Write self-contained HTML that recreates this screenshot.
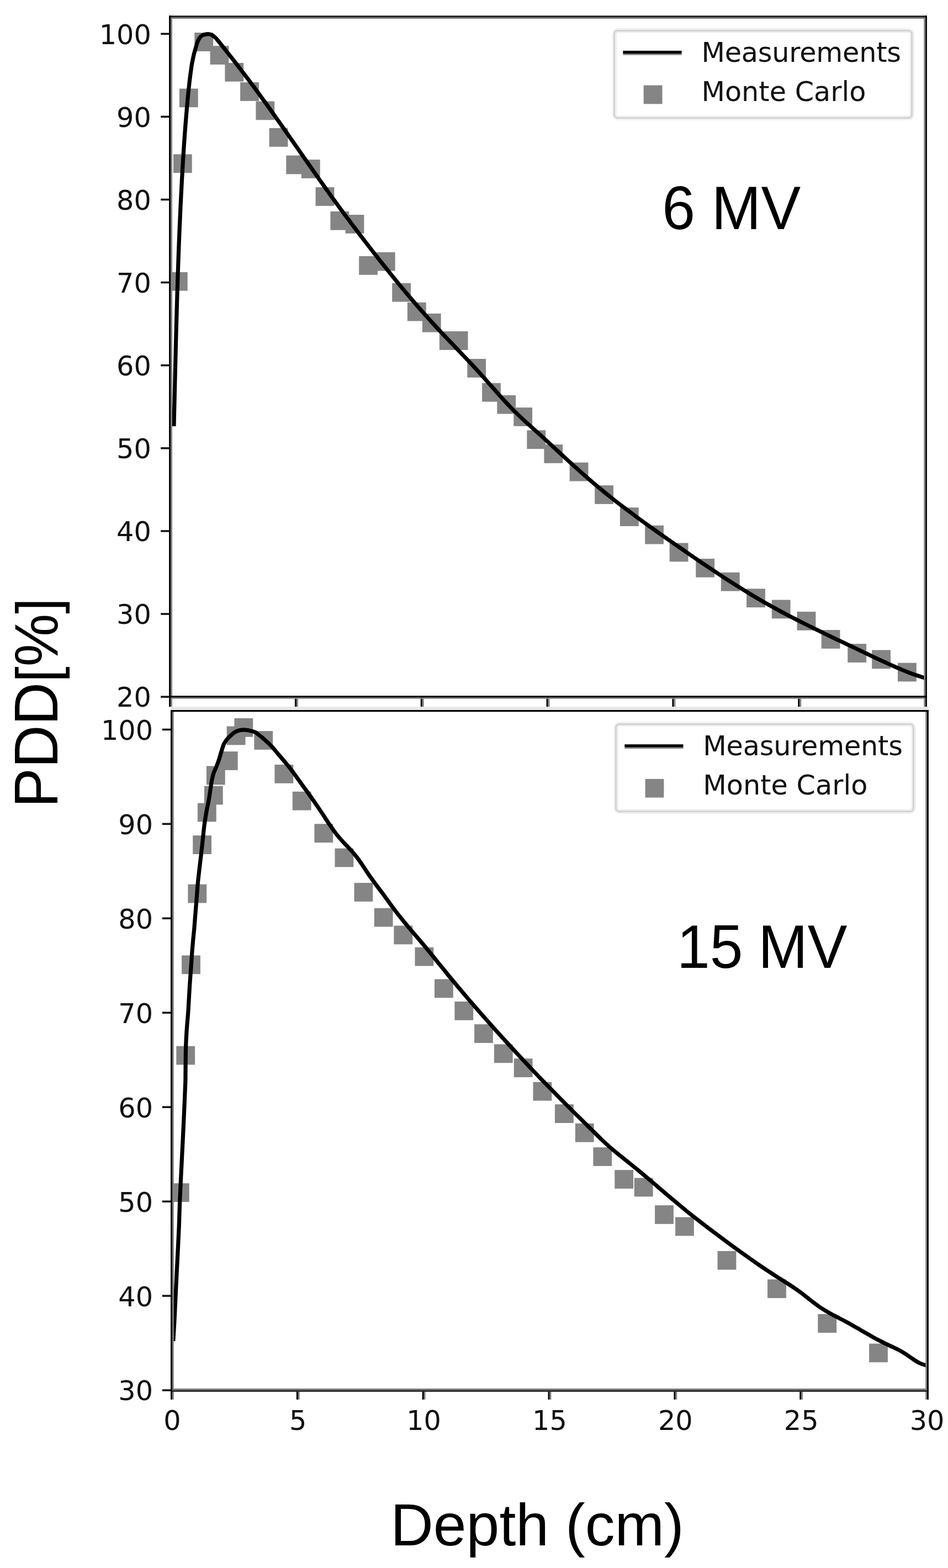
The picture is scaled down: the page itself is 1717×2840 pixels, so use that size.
<!DOCTYPE html>
<html lang="en">
<head>
<meta charset="utf-8">
<title>PDD curves - 6 MV and 15 MV</title>
<style>
html,body{margin:0;padding:0;background:#fff;}
body{width:1717px;height:2840px;overflow:hidden;}
svg{display:block;filter:blur(0.7px);}
text{white-space:pre;}
</style>
</head>
<body>
<svg width="1717" height="2840" viewBox="0 0 1717 2840">
<rect x="0" y="0" width="1717" height="2840" fill="#fff"/>
<!-- top axes: 6 MV -->
<clipPath id="ct"><rect x="306.1" y="28.3" width="1372.8" height="1237.5"/></clipPath>
<g clip-path="url(#ct)">
<g fill="#858585">
<rect x="305.9" y="492.9" width="33.8" height="33.8"/>
<rect x="313.9" y="279.4" width="33.8" height="33.8"/>
<rect x="324.9" y="160.5" width="33.8" height="33.8"/>
<rect x="352.3" y="59.1" width="33.8" height="33.8"/>
<rect x="380.6" y="83.1" width="33.8" height="33.8"/>
<rect x="407.4" y="113.9" width="33.8" height="33.8"/>
<rect x="435.1" y="149.1" width="33.8" height="33.8"/>
<rect x="463.4" y="183.5" width="33.8" height="33.8"/>
<rect x="487.6" y="232" width="33.8" height="33.8"/>
<rect x="518.3" y="281.6" width="33.8" height="33.8"/>
<rect x="545.9" y="289.1" width="33.8" height="33.8"/>
<rect x="571.6" y="339.1" width="33.8" height="33.8"/>
<rect x="598.4" y="382.9" width="33.8" height="33.8"/>
<rect x="625.6" y="389" width="33.8" height="33.8"/>
<rect x="650.2" y="464" width="33.8" height="33.8"/>
<rect x="681.9" y="456.8" width="33.8" height="33.8"/>
<rect x="710.2" y="512.8" width="33.8" height="33.8"/>
<rect x="737.9" y="547.7" width="33.8" height="33.8"/>
<rect x="764.9" y="567.9" width="33.8" height="33.8"/>
<rect x="795.9" y="600.1" width="33.8" height="33.8"/>
<rect x="813.7" y="600.1" width="33.8" height="33.8"/>
<rect x="846.3" y="650" width="33.8" height="33.8"/>
<rect x="873.1" y="693.8" width="33.8" height="33.8"/>
<rect x="900.3" y="715.8" width="33.8" height="33.8"/>
<rect x="930.3" y="738.1" width="33.8" height="33.8"/>
<rect x="954.4" y="779.3" width="33.8" height="33.8"/>
<rect x="985.4" y="805.1" width="33.8" height="33.8"/>
<rect x="1031.7" y="837.7" width="33.8" height="33.8"/>
<rect x="1077.2" y="879.1" width="33.8" height="33.8"/>
<rect x="1122.9" y="919.2" width="33.8" height="33.8"/>
<rect x="1168.2" y="951.7" width="33.8" height="33.8"/>
<rect x="1212.7" y="983.5" width="33.8" height="33.8"/>
<rect x="1260.3" y="1011.9" width="33.8" height="33.8"/>
<rect x="1305.9" y="1036.8" width="33.8" height="33.8"/>
<rect x="1352.1" y="1066.3" width="33.8" height="33.8"/>
<rect x="1397.8" y="1086.5" width="33.8" height="33.8"/>
<rect x="1443.6" y="1107.9" width="33.8" height="33.8"/>
<rect x="1487.7" y="1141" width="33.8" height="33.8"/>
<rect x="1535.3" y="1166.1" width="33.8" height="33.8"/>
<rect x="1579.2" y="1177.4" width="33.8" height="33.8"/>
<rect x="1626" y="1200.6" width="33.8" height="33.8"/>
</g>
<path d="M314.95 772 C315.07 767 315.43 752 315.67 742 C315.91 732 316.15 722 316.38 712 C316.62 702 316.86 692 317.09 682 C317.33 672 317.57 662 317.81 652 C318.06 642 318.3 632 318.55 622 C318.81 612 319.06 602 319.33 592 C319.59 582 319.86 572 320.15 562 C320.43 552 320.72 542 321.02 532 C321.32 522 321.64 512 321.96 502 C322.29 492 322.63 482 322.98 472 C323.34 462 323.71 452 324.1 442 C324.48 432 324.89 422 325.31 412 C325.73 402 326.17 392 326.64 382 C327.1 372 327.58 362 328.09 352 C328.59 342 329.12 332 329.68 322 C330.23 312 330.8 302 331.41 292 C332.02 282 332.65 272 333.33 262 C334.01 252 334.72 242 335.48 232 C336.25 222 337.41 208.17 337.92 202 C338.42 195.83 338.28 197.83 338.53 195 C338.78 192.17 339.13 188.33 339.44 185 C339.75 181.67 340.06 178.33 340.39 175 C340.71 171.67 341.04 168.33 341.38 165 C341.72 161.67 342.07 158.33 342.44 155 C342.81 151.67 343.19 148.33 343.59 145 C343.99 141.67 344.4 138.33 344.84 135 C345.29 131.67 345.77 128.3 346.25 125 C346.72 121.7 346.89 119.57 347.7 115.2 C348.51 110.83 350.03 103.33 351.1 98.8 C352.17 94.27 353.07 91.58 354.1 88 C355.13 84.42 356.13 80.43 357.3 77.3 C358.47 74.17 359.65 71.37 361.1 69.2 C362.55 67.03 364.08 65.47 366 64.3 C367.92 63.13 370.5 62.58 372.6 62.15 C374.7 61.73 376.6 61.49 378.6 61.77 C380.6 62.04 382.6 62.63 384.6 63.8 C386.6 64.96 388.6 66.76 390.6 68.75 C392.6 70.73 394.6 73.31 396.6 75.72 C398.6 78.13 400.6 80.72 402.6 83.22 C404.6 85.73 406.6 88.25 408.6 90.78 C410.6 93.3 412.6 95.84 414.6 98.38 C416.6 100.92 418.6 103.47 420.6 106.03 C422.6 108.59 424.6 111.16 426.6 113.74 C428.6 116.32 430.6 118.9 432.6 121.5 C434.6 124.1 436.6 126.7 438.6 129.32 C440.6 131.94 442.6 134.57 444.6 137.2 C446.6 139.84 448.6 142.49 450.6 145.15 C452.6 147.81 454.6 150.48 456.6 153.16 C458.6 155.84 460.6 158.54 462.6 161.24 C464.6 163.95 467.37 167.72 468.6 169.39 C469.83 171.07 467.77 168.23 470 171.31 C472.23 174.38 478 182.29 482 187.84 C486 193.4 490 198.99 494 204.61 C498 210.23 502 215.89 506 221.57 C510 227.24 514 232.94 518 238.65 C522 244.36 526 250.1 530 255.83 C534 261.56 538 267.31 542 273.05 C546 278.79 550 284.53 554 290.26 C558 295.99 562 301.72 566 307.42 C570 313.13 574 318.82 578 324.48 C582 330.15 586 335.79 590 341.4 C594 347 598 352.58 602 358.11 C606 363.65 610 369.14 614 374.6 C618 380.06 622 385.48 626 390.86 C630 396.25 634 401.6 638 406.91 C642 412.23 646 417.51 650 422.76 C654 428.01 658 433.22 662 438.41 C666 443.6 670 448.76 674 453.89 C678 459.02 682 464.12 686 469.19 C690 474.27 694 479.31 698 484.32 C702 489.34 706 494.32 710 499.26 C714 504.2 718 509.11 722 513.98 C726 518.85 730 523.68 734 528.46 C738 533.24 742 537.98 746 542.67 C750 547.37 754 552.01 758 556.6 C762 561.19 766 565.74 770 570.22 C774 574.71 778 579.13 782 583.51 C786 587.88 790 592.19 794 596.47 C798 600.75 802 604.98 806 609.19 C810 613.41 814 617.59 818 621.77 C822 625.96 826 630.12 830 634.3 C834 638.48 838 642.66 842 646.87 C846 651.09 850 655.31 854 659.58 C858 663.86 862 668.16 866 672.53 C870 676.9 874 681.33 878 685.81 C882 690.28 886 694.86 890 699.4 C894 703.93 898 708.52 902 713 C906 717.48 910 721.97 914 726.28 C918 730.6 922 734.83 926 738.91 C930 742.99 934 746.9 938 750.76 C942 754.61 946 758.33 950 762.03 C954 765.74 958 769.34 962 772.97 C966 776.59 970 780.16 974 783.78 C978 787.4 982 791.03 986 794.68 C990 798.33 994 802.01 998 805.69 C1002 809.36 1006 813.06 1010 816.74 C1014 820.43 1018 824.12 1022 827.79 C1026 831.46 1030 835.13 1034 838.78 C1038 842.42 1042 846.05 1046 849.64 C1050 853.24 1054 856.81 1058 860.33 C1062 863.86 1066 867.35 1070 870.79 C1074 874.23 1078 877.62 1082 880.97 C1086 884.32 1090 887.62 1094 890.88 C1098 894.14 1102 897.35 1106 900.54 C1110 903.72 1114 906.86 1118 909.97 C1122 913.08 1126 916.15 1130 919.19 C1134 922.24 1138 925.25 1142 928.24 C1146 931.22 1150 934.18 1154 937.12 C1158 940.05 1162 942.96 1166 945.86 C1170 948.75 1174 951.62 1178 954.48 C1182 957.34 1186 960.18 1190 963.01 C1194 965.84 1198 968.66 1202 971.46 C1206 974.27 1210 977.07 1214 979.87 C1218 982.66 1222 985.46 1226 988.24 C1230 991.03 1234 993.81 1238 996.58 C1242 999.35 1246 1002.11 1250 1004.87 C1254 1007.62 1258 1010.36 1262 1013.1 C1266 1015.83 1270 1018.55 1274 1021.26 C1278 1023.96 1282 1026.66 1286 1029.33 C1290 1032.01 1294 1034.67 1298 1037.32 C1302 1039.96 1306 1042.59 1310 1045.19 C1314 1047.8 1318 1050.39 1322 1052.95 C1326 1055.52 1330 1058.06 1334 1060.58 C1338 1063.1 1342 1065.6 1346 1068.07 C1350 1070.54 1354 1072.98 1358 1075.4 C1362 1077.82 1366 1080.21 1370 1082.57 C1374 1084.93 1378 1087.26 1382 1089.56 C1386 1091.86 1390 1094.12 1394 1096.36 C1398 1098.61 1402 1100.82 1406 1103 C1410 1105.19 1414 1107.35 1418 1109.48 C1422 1111.62 1426 1113.73 1430 1115.82 C1434 1117.91 1438 1119.98 1442 1122.03 C1446 1124.08 1450 1126.11 1454 1128.13 C1458 1130.15 1462 1132.14 1466 1134.13 C1470 1136.11 1474 1138.08 1478 1140.04 C1482 1142 1486 1143.94 1490 1145.88 C1494 1147.82 1498 1149.74 1502 1151.66 C1506 1153.58 1510 1155.49 1514 1157.4 C1518 1159.31 1522 1161.21 1526 1163.11 C1530 1165.02 1534 1166.91 1538 1168.81 C1542 1170.71 1546 1172.61 1550 1174.51 C1554 1176.41 1558 1178.31 1562 1180.22 C1566 1182.13 1570 1184.04 1574 1185.95 C1578 1187.86 1582 1189.78 1586 1191.67 C1590 1193.57 1594 1195.46 1598 1197.32 C1602 1199.18 1606 1201.03 1610 1202.83 C1614 1204.64 1618 1206.43 1622 1208.16 C1626 1209.9 1630 1211.6 1634 1213.24 C1638 1214.89 1642 1216.49 1646 1218.02 C1650 1219.55 1654 1221.04 1658 1222.44 C1662 1223.84 1666.67 1225.37 1670 1226.44 C1673.33 1227.5 1676.67 1228.44 1678 1228.84" fill="none" stroke="#000" stroke-width="7.2" stroke-linejoin="round" stroke-linecap="butt"/>
</g>
<g stroke="#111" stroke-width="3.5">
<line x1="291.2" y1="61.3" x2="306.6" y2="61.3"/>
<line x1="291.2" y1="211.4" x2="306.6" y2="211.4"/>
<line x1="291.2" y1="361.5" x2="306.6" y2="361.5"/>
<line x1="291.2" y1="511.6" x2="306.6" y2="511.6"/>
<line x1="291.2" y1="661.7" x2="306.6" y2="661.7"/>
<line x1="291.2" y1="811.8" x2="306.6" y2="811.8"/>
<line x1="291.2" y1="961.9" x2="306.6" y2="961.9"/>
<line x1="291.2" y1="1112" x2="306.6" y2="1112"/>
<line x1="291.2" y1="1262.1" x2="306.6" y2="1262.1"/>
</g>
<rect x="306.1" y="1263.4" width="3" height="16.7" fill="#000"/>
<rect x="309.1" y="1263.4" width="2.9" height="16.7" fill="#808080"/>
<rect x="533.94" y="1263.4" width="3" height="16.7" fill="#000"/>
<rect x="536.94" y="1263.4" width="2.9" height="16.7" fill="#808080"/>
<rect x="761.78" y="1263.4" width="3" height="16.7" fill="#000"/>
<rect x="764.78" y="1263.4" width="2.9" height="16.7" fill="#808080"/>
<rect x="989.62" y="1263.4" width="3" height="16.7" fill="#000"/>
<rect x="992.62" y="1263.4" width="2.9" height="16.7" fill="#808080"/>
<rect x="1217.47" y="1263.4" width="3" height="16.7" fill="#000"/>
<rect x="1220.47" y="1263.4" width="2.9" height="16.7" fill="#808080"/>
<rect x="1445.31" y="1263.4" width="3" height="16.7" fill="#000"/>
<rect x="1448.31" y="1263.4" width="2.9" height="16.7" fill="#808080"/>
<rect x="1673.3" y="1263.4" width="2.9" height="16.7" fill="#808080"/>
<rect x="1676.2" y="1263.4" width="2.7" height="16.7" fill="#000"/>
<rect x="306.1" y="31.5" width="1372.8" height="2.4" fill="#777"/>
<rect x="306.1" y="1263.4" width="1372.8" height="2.4" fill="#8a8a8a"/>
<rect x="309.1" y="28.3" width="2.9" height="1237.5" fill="#808080"/>
<rect x="1673.3" y="28.3" width="2.9" height="1237.5" fill="#808080"/>
<rect x="306.1" y="28.3" width="1372.8" height="3.2" fill="#1c1c1c"/>
<rect x="306.1" y="1260.2" width="1372.8" height="3.2" fill="#000"/>
<rect x="306.1" y="28.3" width="3" height="1237.5" fill="#000"/>
<rect x="1676.2" y="28.3" width="2.7" height="1237.5" fill="#000"/>
<g font-family="'DejaVu Sans', sans-serif" font-size="49.3" fill="#111" text-anchor="end">
<text x="273.8" y="79.6">100</text>
<text x="273.8" y="229.7">90</text>
<text x="273.8" y="379.8">80</text>
<text x="273.8" y="529.9">70</text>
<text x="273.8" y="680">60</text>
<text x="273.8" y="830.1">50</text>
<text x="273.8" y="980.2">40</text>
<text x="273.8" y="1130.3">30</text>
<text x="273.8" y="1280.4">20</text>
</g>
<rect x="1113.1" y="55.5" width="538.6" height="158" rx="6" ry="6" fill="#fff" stroke="#f0f0f0" stroke-width="8.6"/>
<rect x="1112.5" y="55.5" width="539" height="158" rx="6" ry="6" fill="none" stroke="#d3d3d3" stroke-width="3"/>
<rect x="1128.4" y="97" width="106.2" height="2.7" fill="#808080"/>
<rect x="1128.4" y="91.9" width="106.2" height="5.2" fill="#000"/>
<rect x="1165.7" y="154.5" width="33.8" height="33.8" fill="#858585"/>
<g font-family="'DejaVu Sans', sans-serif" font-size="49.3" fill="#111">
<text x="1270.4" y="111.8" textLength="361.6" lengthAdjust="spacing">Measurements</text>
<text x="1270.4" y="183.1">Monte Carlo</text>
</g>
<text transform="translate(1199.2 415.4) scale(1 1.032)" font-family="'Liberation Sans', sans-serif" font-size="107.5" fill="#000">6 MV</text>
<!-- bottom axes: 15 MV -->
<rect x="309" y="1280.3" width="1372.9" height="5.3" fill="#e6e6e6"/>
<clipPath id="cb"><rect x="309" y="1286" width="1372.9" height="1234.9"/></clipPath>
<g clip-path="url(#cb)">
<g fill="#858585">
<rect x="308.9" y="2143.2" width="33.8" height="33.8"/>
<rect x="319.3" y="1894.7" width="33.8" height="33.8"/>
<rect x="329.1" y="1730.5" width="33.8" height="33.8"/>
<rect x="340.4" y="1601.7" width="33.8" height="33.8"/>
<rect x="349.2" y="1513.2" width="33.8" height="33.8"/>
<rect x="357.9" y="1454.6" width="33.8" height="33.8"/>
<rect x="369.9" y="1423.6" width="33.8" height="33.8"/>
<rect x="373.9" y="1387.5" width="33.8" height="33.8"/>
<rect x="396.8" y="1361.1" width="33.8" height="33.8"/>
<rect x="410.7" y="1315.5" width="33.8" height="33.8"/>
<rect x="424.4" y="1300.9" width="33.8" height="33.8"/>
<rect x="460.4" y="1324" width="33.8" height="33.8"/>
<rect x="497.4" y="1384.9" width="33.8" height="33.8"/>
<rect x="529.8" y="1433.8" width="33.8" height="33.8"/>
<rect x="569.4" y="1492.3" width="33.8" height="33.8"/>
<rect x="606.5" y="1536.6" width="33.8" height="33.8"/>
<rect x="641.5" y="1599.1" width="33.8" height="33.8"/>
<rect x="677.8" y="1644.8" width="33.8" height="33.8"/>
<rect x="713.4" y="1676.6" width="33.8" height="33.8"/>
<rect x="751.5" y="1715.8" width="33.8" height="33.8"/>
<rect x="787" y="1773.5" width="33.8" height="33.8"/>
<rect x="823.4" y="1814" width="33.8" height="33.8"/>
<rect x="859.1" y="1855.2" width="33.8" height="33.8"/>
<rect x="894.9" y="1891.4" width="33.8" height="33.8"/>
<rect x="930.8" y="1917.3" width="33.8" height="33.8"/>
<rect x="965.5" y="1959.8" width="33.8" height="33.8"/>
<rect x="1005" y="2000.2" width="33.8" height="33.8"/>
<rect x="1041.9" y="2034.8" width="33.8" height="33.8"/>
<rect x="1074.4" y="2078.1" width="33.8" height="33.8"/>
<rect x="1113.3" y="2119.1" width="33.8" height="33.8"/>
<rect x="1148.8" y="2133.5" width="33.8" height="33.8"/>
<rect x="1186.1" y="2183.1" width="33.8" height="33.8"/>
<rect x="1223.1" y="2204.6" width="33.8" height="33.8"/>
<rect x="1299.6" y="2265.9" width="33.8" height="33.8"/>
<rect x="1390.1" y="2317.3" width="33.8" height="33.8"/>
<rect x="1481.3" y="2380.1" width="33.8" height="33.8"/>
<rect x="1574.1" y="2433.6" width="33.8" height="33.8"/>
</g>
<path d="M313.8 2429 C314.25 2421.02 315.63 2398.03 316.5 2381.1 C317.37 2364.17 318.13 2345.3 319 2327.4 C319.87 2309.5 320.83 2291.27 321.7 2273.7 C322.57 2256.13 323.53 2238.48 324.2 2222 C324.87 2205.52 325.02 2191.62 325.7 2174.8 C326.38 2157.98 327.42 2139 328.3 2121.1 C329.18 2103.2 330.13 2085.3 331 2067.4 C331.87 2049.5 332.72 2031.27 333.5 2013.7 C334.28 1996.13 335.28 1974 335.7 1962 C336.12 1950 335.9 1949.57 336 1941.7 C336.1 1933.83 336.15 1923.75 336.3 1914.8 C336.45 1905.85 336.53 1896.95 336.9 1888 C337.27 1879.05 337.87 1870.05 338.5 1861.1 C339.13 1852.15 340.07 1843.25 340.7 1834.3 C341.33 1825.35 341.77 1816.35 342.3 1807.4 C342.83 1798.45 343.3 1789.55 343.9 1780.6 C344.5 1771.65 345.27 1762.65 345.9 1753.7 C346.53 1744.75 347.05 1735.52 347.7 1726.9 C348.35 1718.28 349.12 1709.53 349.8 1702 C350.48 1694.47 351.12 1689.57 351.8 1681.7 C352.48 1673.83 353.18 1663.75 353.9 1654.8 C354.62 1645.85 355.38 1636.95 356.1 1628 C356.82 1619.05 357.37 1610.05 358.2 1601.1 C359.03 1592.15 360.08 1583.25 361.1 1574.3 C362.12 1565.35 363.27 1556.35 364.3 1547.4 C365.33 1538.45 366.32 1529.55 367.3 1520.6 C368.28 1511.65 369 1502.65 370.2 1493.7 C371.4 1484.75 373.33 1473.5 374.5 1466.9 C375.67 1460.3 376.37 1458.47 377.2 1454.1 C378.03 1449.73 378.78 1445.18 379.5 1440.7 C380.22 1436.22 380.82 1431.68 381.5 1427.2 C382.18 1422.72 382.7 1418.27 383.6 1413.8 C384.5 1409.33 385.4 1404.87 386.9 1400.4 C388.4 1395.93 390.87 1391.47 392.6 1387 C394.33 1382.53 395.85 1378.08 397.3 1373.6 C398.75 1369.12 399.85 1364.58 401.3 1360.1 C402.75 1355.62 403.98 1350.62 406 1346.7 C408.02 1342.78 409.93 1340.18 413.4 1336.6 C416.87 1333.02 422.1 1327.67 426.8 1325.2 C431.5 1322.73 436 1321.75 441.6 1321.8 C447.2 1321.85 456.15 1324.15 460.4 1325.5 C464.65 1326.85 464.87 1328.33 467.1 1329.9 C469.33 1331.47 471.57 1333.07 473.8 1334.9 C476.03 1336.73 478.27 1338.88 480.5 1340.9 C482.73 1342.92 484.95 1344.82 487.2 1347 C489.45 1349.18 492.08 1351.88 494 1354 C495.92 1356.12 495.52 1355.92 498.7 1359.7 C501.88 1363.48 508.7 1371.46 513.1 1376.69 C517.5 1381.92 521.1 1385.96 525.1 1391.08 C529.1 1396.2 533.1 1401.9 537.1 1407.41 C541.1 1412.92 545.1 1418.58 549.1 1424.12 C553.1 1429.66 557.1 1435.05 561.1 1440.65 C565.1 1446.25 569.1 1451.87 573.1 1457.7 C577.1 1463.53 581.1 1469.61 585.1 1475.63 C589.1 1481.65 593.1 1487.99 597.1 1493.82 C601.1 1499.65 605.1 1505.49 609.1 1510.61 C613.1 1515.73 617.1 1520.11 621.1 1524.54 C625.1 1528.98 629.1 1532.81 633.1 1537.22 C637.1 1541.64 641.1 1545.92 645.1 1551.04 C649.1 1556.16 653.1 1562.12 657.1 1567.93 C661.1 1573.75 665.1 1580.16 669.1 1585.92 C673.1 1591.68 677.1 1597.06 681.1 1602.49 C685.1 1607.91 689.1 1613.06 693.1 1618.46 C697.1 1623.86 701.1 1629.44 705.1 1634.88 C709.1 1640.32 713.1 1645.86 717.1 1651.09 C721.1 1656.32 725.1 1661.34 729.1 1666.27 C733.1 1671.21 737.1 1675.95 741.1 1680.7 C745.1 1685.45 749.1 1690.07 753.1 1694.76 C757.1 1699.45 761.1 1704.09 765.1 1708.84 C769.1 1713.59 773.1 1718.41 777.1 1723.27 C781.1 1728.13 785.1 1733.07 789.1 1738 C793.1 1742.93 797.1 1747.92 801.1 1752.85 C805.1 1757.79 809.1 1762.73 813.1 1767.62 C817.1 1772.5 821.1 1777.34 825.1 1782.15 C829.1 1786.95 833.1 1791.71 837.1 1796.44 C841.1 1801.16 845.1 1805.85 849.1 1810.51 C853.1 1815.17 857.1 1819.79 861.1 1824.38 C865.1 1828.98 869.1 1833.54 873.1 1838.09 C877.1 1842.63 881.1 1847.14 885.1 1851.63 C889.1 1856.13 893.1 1860.6 897.1 1865.05 C901.1 1869.5 905.1 1873.92 909.1 1878.33 C913.1 1882.74 917.1 1887.12 921.1 1891.49 C925.1 1895.85 929.1 1900.2 933.1 1904.52 C937.1 1908.84 941.1 1913.14 945.1 1917.42 C949.1 1921.7 953.1 1925.96 957.1 1930.2 C961.1 1934.44 965.1 1938.66 969.1 1942.86 C973.1 1947.05 977.1 1951.23 981.1 1955.39 C985.1 1959.54 989.1 1963.68 993.1 1967.8 C997.1 1971.91 1001.1 1976.01 1005.1 1980.09 C1009.1 1984.16 1013.1 1988.22 1017.1 1992.26 C1021.1 1996.29 1025.1 2000.31 1029.1 2004.31 C1033.1 2008.31 1037.1 2012.28 1041.1 2016.24 C1045.1 2020.2 1049.1 2024.13 1053.1 2028.06 C1057.1 2031.99 1061.1 2035.9 1065.1 2039.84 C1069.1 2043.77 1073.1 2047.72 1077.1 2051.66 C1081.1 2055.61 1085.1 2059.68 1089.1 2063.51 C1093.1 2067.34 1097.1 2071.08 1101.1 2074.65 C1105.1 2078.23 1109.1 2081.63 1113.1 2084.99 C1117.1 2088.34 1121.1 2091.56 1125.1 2094.79 C1129.1 2098.02 1133.1 2101.17 1137.1 2104.36 C1141.1 2107.56 1145.1 2110.74 1149.1 2113.99 C1153.1 2117.24 1157.1 2120.53 1161.1 2123.85 C1165.1 2127.18 1169.1 2130.54 1173.1 2133.92 C1177.1 2137.3 1181.1 2140.71 1185.1 2144.13 C1189.1 2147.54 1193.1 2150.97 1197.1 2154.39 C1201.1 2157.81 1205.1 2161.24 1209.1 2164.65 C1213.1 2168.06 1217.1 2171.46 1221.1 2174.83 C1225.1 2178.2 1229.1 2181.55 1233.1 2184.86 C1237.1 2188.17 1241.1 2191.45 1245.1 2194.68 C1249.1 2197.92 1253.1 2201.12 1257.1 2204.29 C1261.1 2207.45 1265.1 2210.58 1269.1 2213.69 C1273.1 2216.79 1277.1 2219.86 1281.1 2222.91 C1285.1 2225.96 1289.1 2228.97 1293.1 2231.98 C1297.1 2234.98 1301.1 2237.95 1305.1 2240.92 C1309.1 2243.89 1313.1 2246.83 1317.1 2249.78 C1321.1 2252.72 1325.1 2255.66 1329.1 2258.58 C1333.1 2261.51 1337.1 2264.42 1341.1 2267.31 C1345.1 2270.2 1349.1 2273.08 1353.1 2275.93 C1357.1 2278.78 1361.1 2281.61 1365.1 2284.4 C1369.1 2287.2 1373.1 2289.97 1377.1 2292.7 C1381.1 2295.43 1385.1 2298.13 1389.1 2300.78 C1393.1 2303.44 1397.1 2306.04 1401.1 2308.62 C1405.1 2311.2 1409.1 2313.7 1413.1 2316.24 C1417.1 2318.79 1421.1 2321.28 1425.1 2323.87 C1429.1 2326.46 1433.1 2329.05 1437.1 2331.78 C1441.1 2334.5 1445.1 2337.28 1449.1 2340.22 C1453.1 2343.16 1457.1 2346.3 1461.1 2349.4 C1465.1 2352.5 1469.1 2355.78 1473.1 2358.82 C1477.1 2361.85 1481.1 2364.89 1485.1 2367.62 C1489.1 2370.35 1493.1 2372.83 1497.1 2375.21 C1501.1 2377.59 1505.1 2379.73 1509.1 2381.88 C1513.1 2384.03 1517.1 2386.03 1521.1 2388.12 C1525.1 2390.2 1529.1 2392.24 1533.1 2394.4 C1537.1 2396.55 1541.1 2398.8 1545.1 2401.07 C1549.1 2403.33 1553.1 2405.69 1557.1 2408 C1561.1 2410.32 1565.1 2412.68 1569.1 2414.98 C1573.1 2417.28 1577.1 2419.58 1581.1 2421.8 C1585.1 2424.02 1589.1 2426.22 1593.1 2428.31 C1597.1 2430.4 1601.1 2432.42 1605.1 2434.34 C1609.1 2436.26 1613.1 2437.95 1617.1 2439.83 C1621.1 2441.71 1625.1 2443.45 1629.1 2445.64 C1633.1 2447.82 1637.1 2450.36 1641.1 2452.97 C1645.1 2455.58 1649.1 2458.68 1653.1 2461.3 C1657.1 2463.91 1661.1 2466.69 1665.1 2468.63 C1669.1 2470.57 1674.45 2472.16 1677.1 2472.94 C1679.75 2473.73 1680.35 2473.28 1681 2473.35" fill="none" stroke="#000" stroke-width="7.2" stroke-linejoin="round" stroke-linecap="butt"/>
</g>
<g stroke="#111" stroke-width="3.5">
<line x1="293.8" y1="1321.4" x2="309.5" y2="1321.4"/>
<line x1="293.8" y1="1492.35" x2="309.5" y2="1492.35"/>
<line x1="293.8" y1="1663.3" x2="309.5" y2="1663.3"/>
<line x1="293.8" y1="1834.25" x2="309.5" y2="1834.25"/>
<line x1="293.8" y1="2005.2" x2="309.5" y2="2005.2"/>
<line x1="293.8" y1="2176.15" x2="309.5" y2="2176.15"/>
<line x1="293.8" y1="2347.1" x2="309.5" y2="2347.1"/>
<line x1="293.8" y1="2518.05" x2="309.5" y2="2518.05"/>
</g>
<rect x="309" y="2518" width="3.1" height="16.9" fill="#000"/>
<rect x="312.1" y="2518" width="2.7" height="16.9" fill="#808080"/>
<rect x="536.86" y="2518" width="3.1" height="16.9" fill="#000"/>
<rect x="539.96" y="2518" width="2.7" height="16.9" fill="#808080"/>
<rect x="764.72" y="2518" width="3.1" height="16.9" fill="#000"/>
<rect x="767.82" y="2518" width="2.7" height="16.9" fill="#808080"/>
<rect x="992.58" y="2518" width="3.1" height="16.9" fill="#000"/>
<rect x="995.68" y="2518" width="2.7" height="16.9" fill="#808080"/>
<rect x="1220.43" y="2518" width="3.1" height="16.9" fill="#000"/>
<rect x="1223.53" y="2518" width="2.7" height="16.9" fill="#808080"/>
<rect x="1448.29" y="2518" width="3.1" height="16.9" fill="#000"/>
<rect x="1451.39" y="2518" width="2.7" height="16.9" fill="#808080"/>
<rect x="1676.2" y="2518" width="2.7" height="16.9" fill="#808080"/>
<rect x="1678.9" y="2518" width="3" height="16.9" fill="#000"/>
<rect x="309" y="2515" width="1372.9" height="3" fill="#777"/>
<rect x="312.1" y="1286" width="2.7" height="1234.9" fill="#808080"/>
<rect x="1676.2" y="1286" width="2.7" height="1234.9" fill="#808080"/>
<rect x="309" y="1286" width="1372.9" height="3.2" fill="#000"/>
<rect x="309" y="2518" width="1372.9" height="2.9" fill="#2a2a2a"/>
<rect x="309" y="1286" width="3.1" height="1234.9" fill="#000"/>
<rect x="1678.9" y="1286" width="3" height="1234.9" fill="#000"/>
<g font-family="'DejaVu Sans', sans-serif" font-size="49.3" fill="#111" text-anchor="end">
<text x="277.1" y="1339.8">100</text>
<text x="277.1" y="1510.75">90</text>
<text x="277.1" y="1681.7">80</text>
<text x="277.1" y="1852.65">70</text>
<text x="277.1" y="2023.6">60</text>
<text x="277.1" y="2194.55">50</text>
<text x="277.1" y="2365.5">40</text>
<text x="277.1" y="2536.45">30</text>
</g>
<g font-family="'DejaVu Sans', sans-serif" font-size="49.3" fill="#111" text-anchor="middle">
<text x="311.9" y="2590.3">0</text>
<text x="539.76" y="2590.3">5</text>
<text x="767.62" y="2590.3">10</text>
<text x="995.48" y="2590.3">15</text>
<text x="1223.33" y="2590.3">20</text>
<text x="1451.19" y="2590.3">25</text>
<text x="1679.05" y="2590.3">30</text>
</g>
<rect x="1116" y="1311.8" width="538.6" height="158" rx="6" ry="6" fill="#fff" stroke="#f0f0f0" stroke-width="8.6"/>
<rect x="1115.4" y="1311.8" width="539" height="158" rx="6" ry="6" fill="none" stroke="#d3d3d3" stroke-width="3"/>
<rect x="1131.3" y="1353.3" width="106.2" height="2.7" fill="#808080"/>
<rect x="1131.3" y="1348.2" width="106.2" height="5.2" fill="#000"/>
<rect x="1168.6" y="1410.8" width="33.8" height="33.8" fill="#858585"/>
<g font-family="'DejaVu Sans', sans-serif" font-size="49.3" fill="#111">
<text x="1273.3" y="1368.1" textLength="361.6" lengthAdjust="spacing">Measurements</text>
<text x="1273.3" y="1439.4">Monte Carlo</text>
</g>
<text transform="translate(1226 1753.2) scale(1 1.032)" font-family="'Liberation Sans', sans-serif" font-size="107.5" fill="#000">15<tspan dx="-2.2"> MV</tspan></text>
<!-- axis titles -->
<text transform="translate(103.9 1273) rotate(-90) scale(1 1.03)" text-anchor="middle" font-family="'Liberation Sans', sans-serif" font-size="107.5" fill="#000">PDD<tspan font-size="102.66">[</tspan>%<tspan font-size="102.66">]</tspan></text>
<text x="973.0" y="2799.2" text-anchor="middle" font-family="'Liberation Sans', sans-serif" font-size="107.5" fill="#000">Depth (cm)</text>
</svg>
</body>
</html>
